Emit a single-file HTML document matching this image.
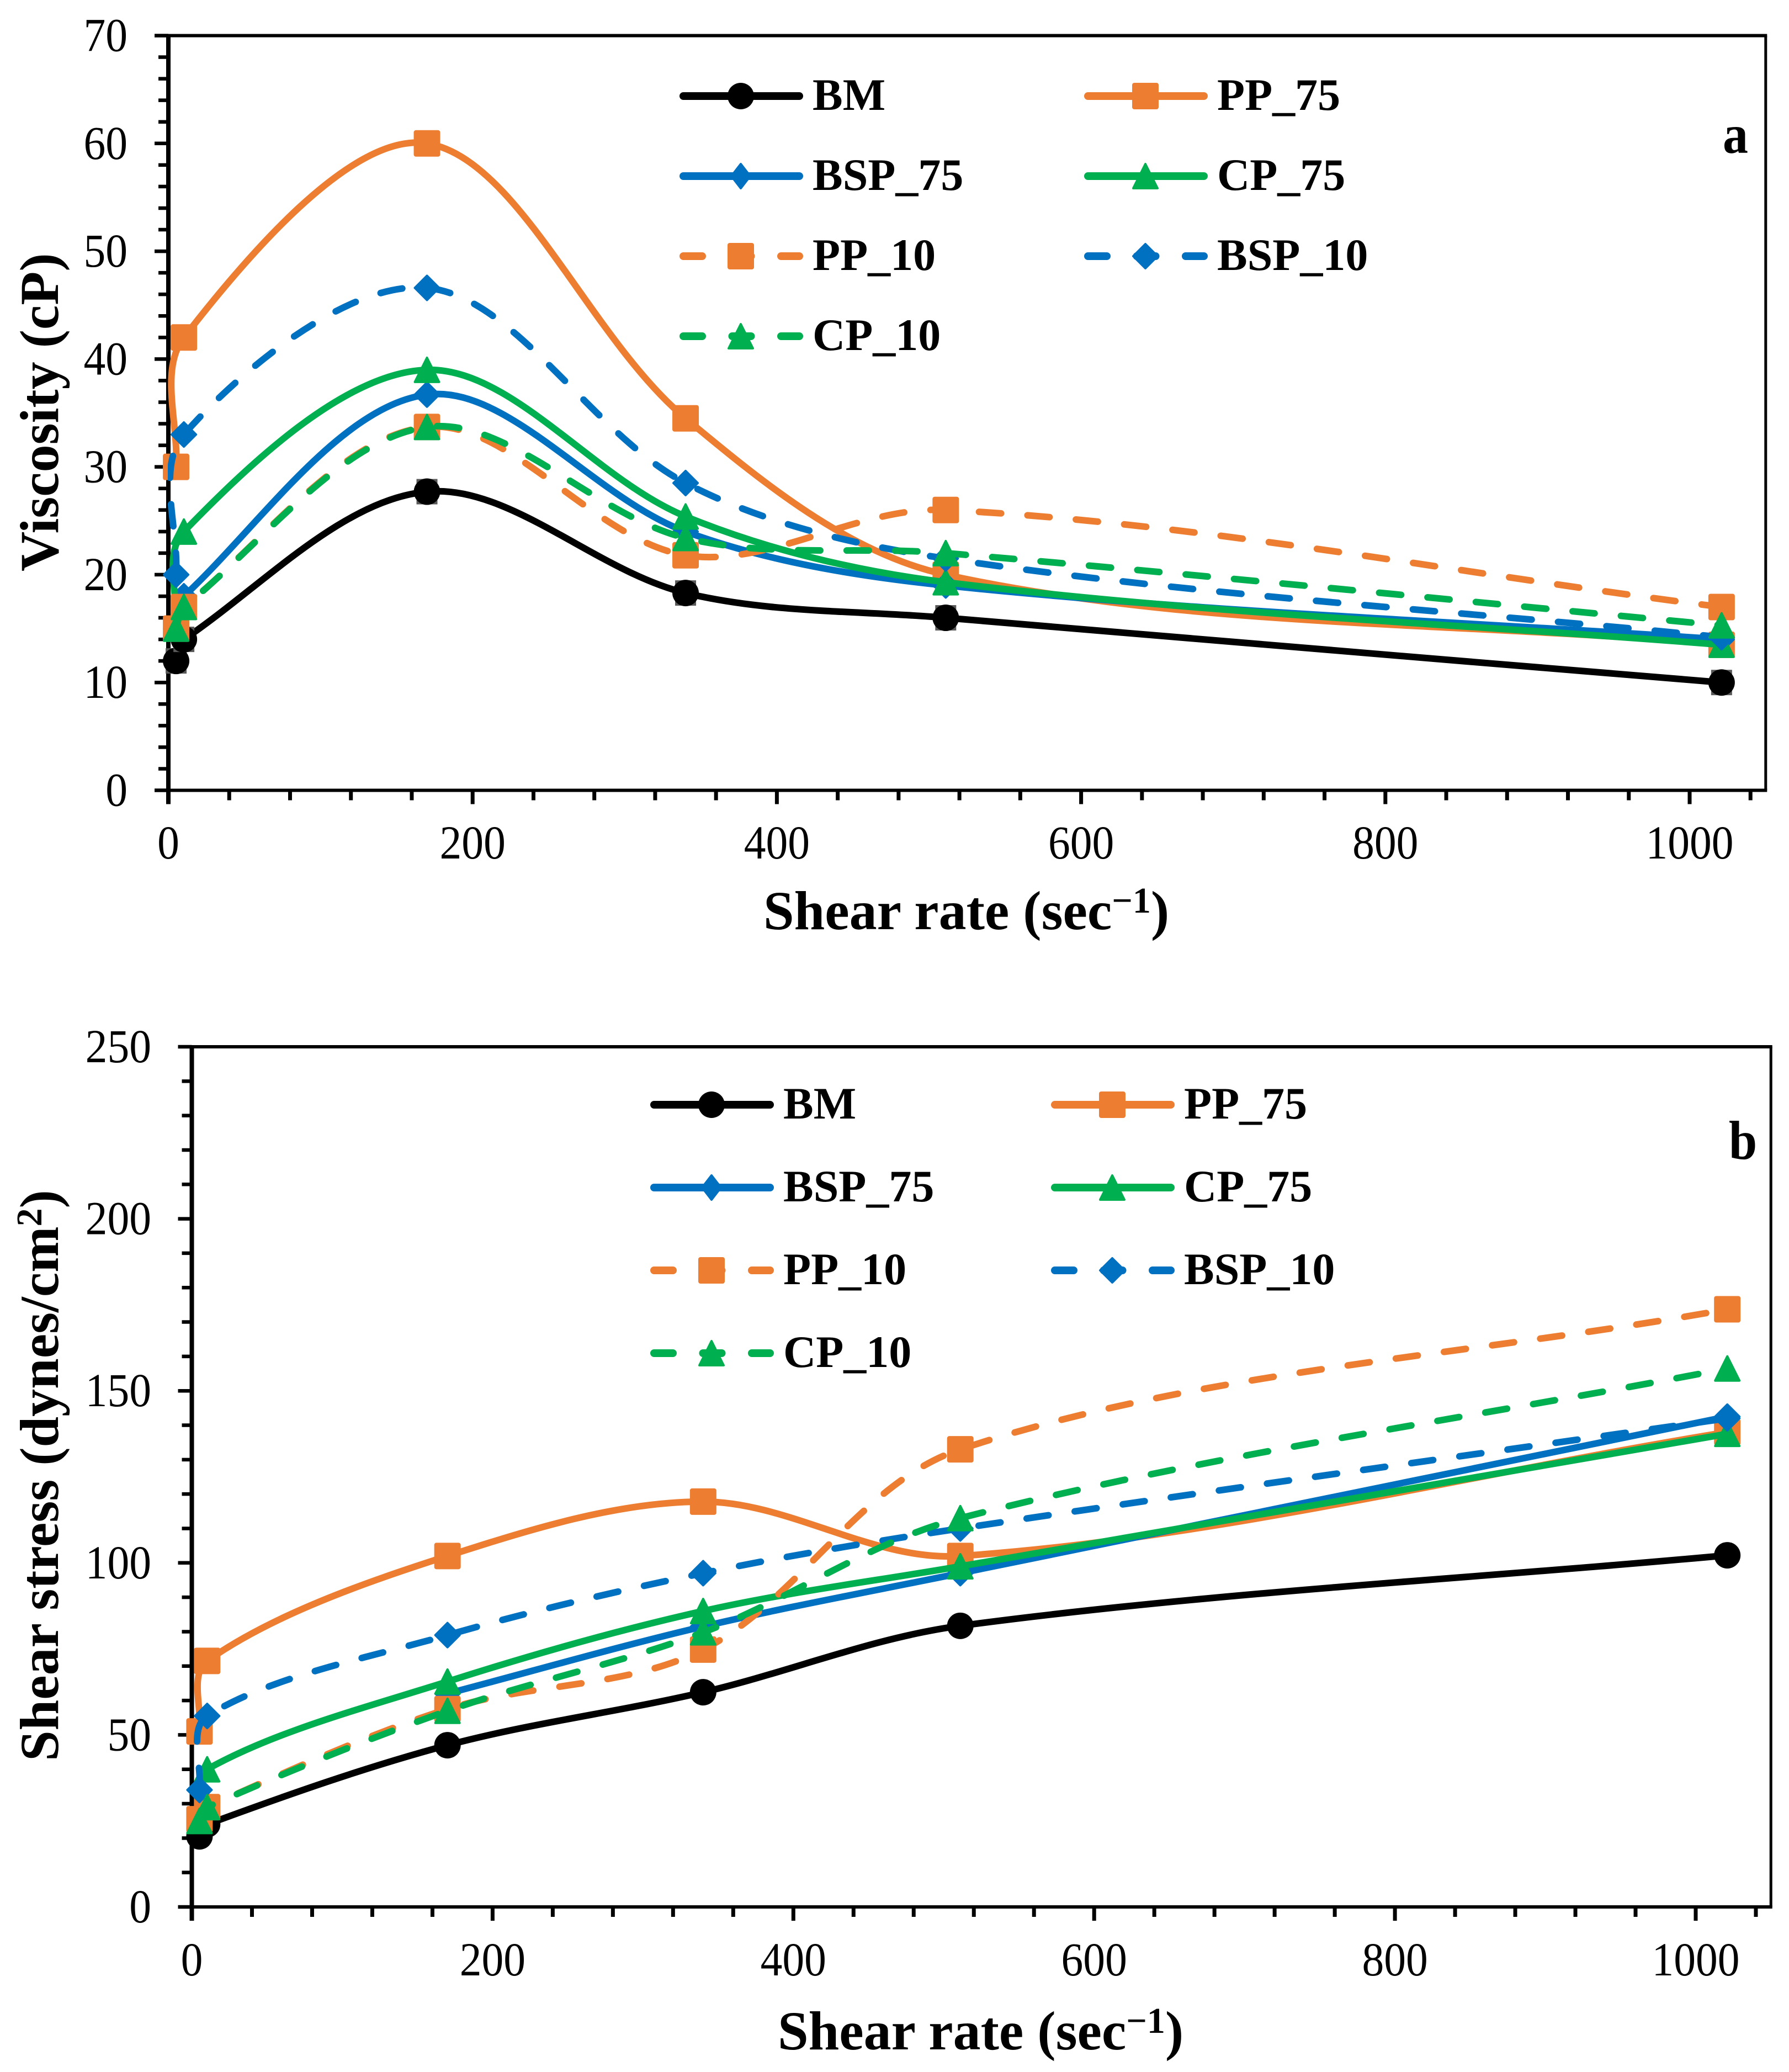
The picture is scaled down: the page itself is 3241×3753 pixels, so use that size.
<!DOCTYPE html>
<html lang="en">
<head>
<meta charset="utf-8">
<title>Viscosity and shear stress versus shear rate</title>
<style>
html,body{margin:0;padding:0;background:#fff}
svg{display:block}
text{font-family:"Liberation Serif",serif;fill:#000}
.title{font-weight:bold;font-size:100px}
.legend-text{font-weight:bold;font-size:82px}
.tick{font-size:86px}
</style>
</head>
<body>
<svg id="figure" xmlns="http://www.w3.org/2000/svg" width="3241" height="3753" viewBox="0 0 3241 3753">
  <rect x="0" y="0" width="3241" height="3753" fill="#fff"/>
  <g id="panel-a"></g>
  <g id="panel-b"></g>
  <text class="title" x="1383" y="1683">Shear rate (sec<tspan dy="-30" font-size="66">−1</tspan><tspan dy="30">)</tspan></text>
  <text class="title" transform="translate(105,1035) rotate(-90)">Viscosity (cP)</text>
  <text class="title" transform="translate(3121,277) scale(0.92,1)" font-size="98">a</text>
  <text class="title" x="1409" y="3712">Shear rate (sec<tspan dy="-30" font-size="66">−1</tspan><tspan dy="30">)</tspan></text>
  <text class="title" transform="translate(105,3190) rotate(-90)">Shear stress (dynes/cm<tspan dy="-30" font-size="66">2</tspan><tspan dy="30">)</tspan></text>
  <text class="title" transform="translate(3132,2099) scale(0.92,1)" font-size="98">b</text>
</svg>
<script>
// ---- shared data ----
const shearRates = [5.1, 10.2, 170, 340, 511, 1021];
const seriesNames = ['BM', 'PP_75', 'BSP_75', 'CP_75', 'PP_10', 'BSP_10', 'CP_10'];
const xTickLabels = [0, 200, 400, 600, 800, 1000];

// ---- panel a: viscosity (cP) ----
const viscosityBM    = [12, 14, 27.7, 18.3, 16, 10];
const viscosityPP75  = [30, 42, 60, 34.5, 20, 13.5];
const viscosityBSP75 = [15, 18, 36.7, 24, 19, 14];
const viscosityCP75  = [15, 24, 39, 25.4, 19.3, 13.5];
const viscosityPP10  = [15, 17, 33.7, 21.8, 26, 17];
const viscosityBSP10 = [20, 33, 46.6, 28.5, 21.5, 14.2];
const viscosityCP10  = [15, 17, 33.7, 23.4, 22, 15.3];
const viscosityTickLabels = [0, 10, 20, 30, 40, 50, 60, 70];

// ---- panel b: shear stress (dynes/cm2) ----
const stressBM    = [20.5, 24, 47, 62.4, 81.7, 102.2];
const stressPP75  = [51, 71.5, 102, 117.8, 102, 138];
const stressBSP75 = [null, null, 62, 81.5, 97, 142.5];
const stressCP75  = [25, 40, 65.5, 86, 99, 137.5];
const stressPP10  = [25.5, 29, 57.5, 74.8, 133, 173.7];
const stressBSP10 = [34, 55.5, 79, 97, 110, 142];
const stressCP10  = [25, 29, 57, 79.8, 113, 156.5];
const stressTickLabels = [0, 50, 100, 150, 200, 250];

const viscositySeries = [viscosityBM, viscosityPP75, viscosityBSP75, viscosityCP75, viscosityPP10, viscosityBSP10, viscosityCP10];
const stressSeries = [stressBM, stressPP75, stressBSP75, stressCP75, stressPP10, stressBSP10, stressCP10];

// ---- styling ----
const seriesColors = ['#000000', '#ED7D31', '#0070C0', '#00B050', '#ED7D31', '#0070C0', '#00B050'];
const seriesMarkers = ['circle', 'square', 'diamond', 'triangle', 'square', 'diamond', 'triangle'];
const seriesDashed = [false, false, false, false, true, true, true];

const SVG_NS = 'http://www.w3.org/2000/svg';

function make(parent, tag, attrs, name) {
  const el = document.createElementNS(SVG_NS, tag);
  for (const k in attrs) el.setAttribute(k, attrs[k]);
  
  
  parent.appendChild(el);
  return el;
}

function smoothPath(pts) {
  let d = 'M' + pts[0][0].toFixed(2) + ' ' + pts[0][1].toFixed(2);
  const dist = (a, b) => Math.hypot(a[0] - b[0], a[1] - b[1]);
  for (let i = 0; i < pts.length - 1; i++) {
    const p0 = pts[Math.max(i - 1, 0)], p1 = pts[i], p2 = pts[i + 1], p3 = pts[Math.min(i + 2, pts.length - 1)];
    const d01 = dist(p0, p1), d12 = dist(p1, p2), d23 = dist(p2, p3);
    const f1 = d12 / (d01 + d12) / 3;
    const f2 = d12 / (d12 + d23) / 3;
    const c1x = p1[0] + (p2[0] - p0[0]) * f1, c1y = p1[1] + (p2[1] - p0[1]) * f1;
    const c2x = p2[0] - (p3[0] - p1[0]) * f2, c2y = p2[1] - (p3[1] - p1[1]) * f2;
    d += 'C' + [c1x, c1y, c2x, c2y, p2[0], p2[1]].map(v => v.toFixed(2)).join(' ');
  }
  return d;
}

function drawMarker(parent, kind, cx, cy, color, name, diamondWidth) {
  const r = 24;
  if (kind === 'circle') {
    make(parent, 'circle', {cx: cx, cy: cy, r: r, fill: color}, name);
  } else if (kind === 'square') {
    make(parent, 'rect', {x: cx - r, y: cy - r, width: 2 * r, height: 2 * r, rx: 4, fill: color}, name);
  } else if (kind === 'diamond') {
    const w = (diamondWidth || 48) / 2 - 2, h = r - 2;
    make(parent, 'polygon', {points: [cx, cy - h, cx + w, cy, cx, cy + h, cx - w, cy].join(' '), fill: color, stroke: color, 'stroke-width': 4, 'stroke-linejoin': 'round'}, name);
  } else {
    const w = r - 2, h = r - 2;
    make(parent, 'polygon', {points: [cx, cy - h, cx + w, cy + h, cx - w, cy + h].join(' '), fill: color, stroke: color, 'stroke-width': 4, 'stroke-linejoin': 'round'}, name);
  }
}

function drawPanel(root, cfg) {
  const xScale = v => cfg.x0 + (v / 1000) * (cfg.x1000 - cfg.x0);
  const yScale = v => cfg.y0 + (v / cfg.yMax) * (cfg.yTop - cfg.y0);
  const xMax = 1050;
  const right = xScale(xMax);

  // frame
  make(root, 'line', {x1: cfg.x0 - 25, x2: right + 2.5, y1: cfg.yTop, y2: cfg.yTop, stroke: '#000', 'stroke-width': 6}, cfg.id + '-plot-top-border');
  make(root, 'line', {x1: right, x2: right, y1: cfg.yTop, y2: cfg.y0, stroke: '#000', 'stroke-width': 5}, cfg.id + '-plot-right-border');
  make(root, 'line', {x1: cfg.x0 - 25, x2: right + 2.5, y1: cfg.y0, y2: cfg.y0, stroke: '#000', 'stroke-width': 6}, cfg.id + '-x-axis-line');
  make(root, 'line', {x1: cfg.x0, x2: cfg.x0, y1: cfg.yTop - 3, y2: cfg.y0 + 25, stroke: '#000', 'stroke-width': 8}, cfg.id + '-y-axis-line');

  // x ticks (major every 200, minor every 40)
  for (let v = 0; v <= xMax; v += 40) {
    const major = v % 200 === 0;
    make(root, 'line', {x1: xScale(v), x2: xScale(v), y1: cfg.y0, y2: cfg.y0 + (major ? 25 : 18), stroke: '#000', 'stroke-width': 7}, cfg.id + (major ? '-x-major-tick' : '-x-minor-tick'));
  }
  xTickLabels.forEach(v => {
    const t = make(root, 'text', {class: 'tick', 'text-anchor': 'middle', transform: 'translate(' + xScale(v) + ',' + cfg.xLabelY + ') scale(0.925,1)'}, cfg.id + '-x-tick-label');
    t.textContent = v;
  });

  // y ticks (5 divisions per labelled interval)
  const labels = cfg.yLabels;
  const step = labels[1] - labels[0];
  for (let i = 0; i < labels.length - 1; i++) {
    for (let k = 1; k < 5; k++) {
      const v = labels[i] + step * k / 5;
      make(root, 'line', {x1: cfg.x0 - 18, x2: cfg.x0, y1: yScale(v), y2: yScale(v), stroke: '#000', 'stroke-width': 6.5}, cfg.id + '-y-minor-tick');
    }
  }
  labels.forEach(v => {
    make(root, 'line', {x1: cfg.x0 - 25, x2: cfg.x0, y1: yScale(v), y2: yScale(v), stroke: '#000', 'stroke-width': 6.5}, cfg.id + '-y-major-tick');
    const t = make(root, 'text', {class: 'tick', 'text-anchor': 'end', transform: 'translate(' + cfg.yLabelX + ',' + (yScale(v) + 28) + ') scale(0.925,1)'}, cfg.id + '-y-tick-label');
    t.textContent = v;
  });

  // clip so curves that overshoot left stop at the axis
  const clip = make(root, 'clipPath', {id: cfg.id + '-clip'}, cfg.id + '-plot-clip');
  make(clip, 'rect', {x: cfg.x0 - 1, y: cfg.yTop, width: right - cfg.x0 + 1, height: cfg.y0 - cfg.yTop}, cfg.id + '-plot-clip-rect');

  // series
  cfg.series.forEach((vals, s) => {
    const name = seriesNames[s].toLowerCase().replace('_', '-');
    const g = make(root, 'g', {}, 'series-' + cfg.id + '-' + name);
    const pts = [];
    vals.forEach((v, i) => {
      if (v !== null) pts.push([xScale(shearRates[i]), yScale(v)]);
    });
    const attrs = {d: smoothPath(pts), fill: 'none', stroke: seriesColors[s], 'stroke-width': 12, 'stroke-linecap': 'round', 'clip-path': 'url(#' + cfg.id + '-clip)'};
    if (seriesDashed[s]) attrs['stroke-dasharray'] = '40 48';
    make(g, 'path', attrs, 'line-' + cfg.id + '-' + name);
    pts.forEach(p => {
      if (cfg.greyBacking && seriesMarkers[s] === 'circle') {
        make(g, 'rect', {x: p[0] - 19, y: p[1] - 23, width: 38, height: 46, fill: '#595959'}, 'marker-backing-' + cfg.id + '-' + name);
      }
      drawMarker(g, seriesMarkers[s], p[0], p[1], seriesColors[s], 'point-' + cfg.id + '-' + name);
    });
  });

  // legend
  const lg = make(root, 'g', {}, cfg.id + '-legend');
  seriesNames.forEach((label, s) => {
    const col = s === 0 || s === 2 || s === 4 || s === 6 ? 0 : 1;
    const row = [0, 0, 1, 1, 2, 2, 3][s];
    const lx = cfg.legendX[col];
    const ly = cfg.legendY[row];
    const entry = make(lg, 'g', {}, 'legend-entry-' + cfg.id + '-' + label.toLowerCase().replace('_', '-'));
    const a = {x1: lx + 7, x2: lx + 217, y1: ly, y2: ly, stroke: seriesColors[s], 'stroke-width': 14, 'stroke-linecap': 'round'};
    if (seriesDashed[s]) a['stroke-dasharray'] = '34 54.5';
    make(entry, 'line', a, 'legend-line');
    drawMarker(entry, seriesMarkers[s], lx + 111, ly, seriesColors[s], 'legend-marker', seriesDashed[s] ? 48 : 38);
    const t = make(entry, 'text', {class: 'legend-text', x: lx + 241, y: ly + 25}, 'legend-label');
    t.textContent = label;
  });
}

drawPanel(document.getElementById('panel-a'), {
  id: 'viscosity', x0: 305, x1000: 3061, y0: 1431.5, yTop: 64.5, yMax: 70,
  yLabels: viscosityTickLabels, series: viscositySeries,
  xLabelY: 1555, yLabelX: 231, greyBacking: true,
  legendX: [1231, 1964], legendY: [174, 319, 464, 609]
});
drawPanel(document.getElementById('panel-b'), {
  id: 'stress', x0: 347.5, x1000: 3072, y0: 3454, yTop: 1896, yMax: 250,
  yLabels: stressTickLabels, series: stressSeries,
  xLabelY: 3578, yLabelX: 274, greyBacking: false,
  legendX: [1178, 1904], legendY: [2001, 2151, 2301, 2451]
});
</script>
</body>
</html>
